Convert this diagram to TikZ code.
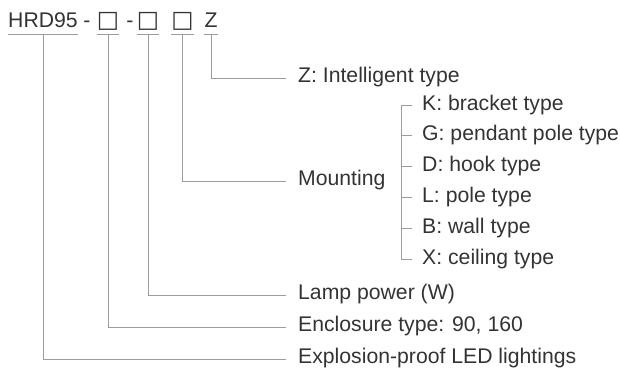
\documentclass[tikz,border=0pt]{standalone}
\usepackage{fontspec}
\setmainfont{Liberation Sans}
\newfontfamily\symfont{DejaVu Sans}
\definecolor{txt}{HTML}{333333}
\definecolor{lngray}{HTML}{9C9C9C}
\begin{document}
\begin{tikzpicture}[x=1pt,y=-1pt,
  font=\fontsize{21.2}{25}\selectfont, text=txt,
  conn/.style={draw=lngray, line width=0.9pt},
  hd/.style={anchor=base, inner xsep=0pt, inner ysep=7pt, text height=0.716em, text depth=0pt},
  bx/.style={hd, minimum width=15pt, font=\symfont\fontsize{23.5}{25}\selectfont},
  lab/.style={anchor=west, inner xsep=12pt, inner ysep=0pt, text height=0.86em, text depth=0pt},
  itm/.style={anchor=west, inner xsep=10pt, inner ysep=0pt, text height=1em, text depth=0pt}]
\useasboundingbox (0,0) rectangle (620,372);
% header
\node[hd] (h0) at (43,27) {HRD95};
\node[hd] (d1) at (87,27) {-};
\node[bx] (h1) at (108,27) {□};
\node[hd] (d2) at (130,27) {-};
\node[bx] (h2) at (148,27) {□};
\node[bx] (h3) at (182.5,27) {□};
\node[hd] (h4) at (211,27) {Z};
% labels
\node[lab] (lz) at (286,78) {Z: Intelligent type};
\node[lab] (lm) at (286,181) {Mounting};
\node[lab] (lp) at (286,295) {Lamp power (W)};
\node[lab] (le) at (286,327) {Enclosure type: 90, 160};
\node[lab] (lx) at (286,359) {Explosion-proof LED lightings};
% mounting items
\node[itm] (mk) at (412,105) {K: bracket type};
\node[itm] (mg) at (412,135.8) {G: pendant pole type};
\node[itm] (md) at (412,166.6) {D: hook type};
\node[itm] (ml) at (412,197.4) {L: pole type};
\node[itm] (mb) at (412,228.2) {B: wall type};
\node[itm] (mx) at (412,259) {X: ceiling type};
% underlines
\foreach \n in {h0,h1,h2,h3,h4}
  \draw[conn] (\n.south west) -- (\n.south east);
% connectors
\draw[conn] (h4.south) |- (lz.west);
\draw[conn] (h3.south) |- (lm.west);
\draw[conn] (h2.south) |- (lp.west);
\draw[conn] (h1.south) |- (le.west);
\draw[conn] (h0.south) |- (lx.west);
% bracket
\draw[conn] (mk.west) -- ++(-11,0) |- (mx.west);
\foreach \n in {mg,md,ml,mb}
  \draw[conn] (\n.west) -- ++(-11,0);
\end{tikzpicture}
\end{document}
